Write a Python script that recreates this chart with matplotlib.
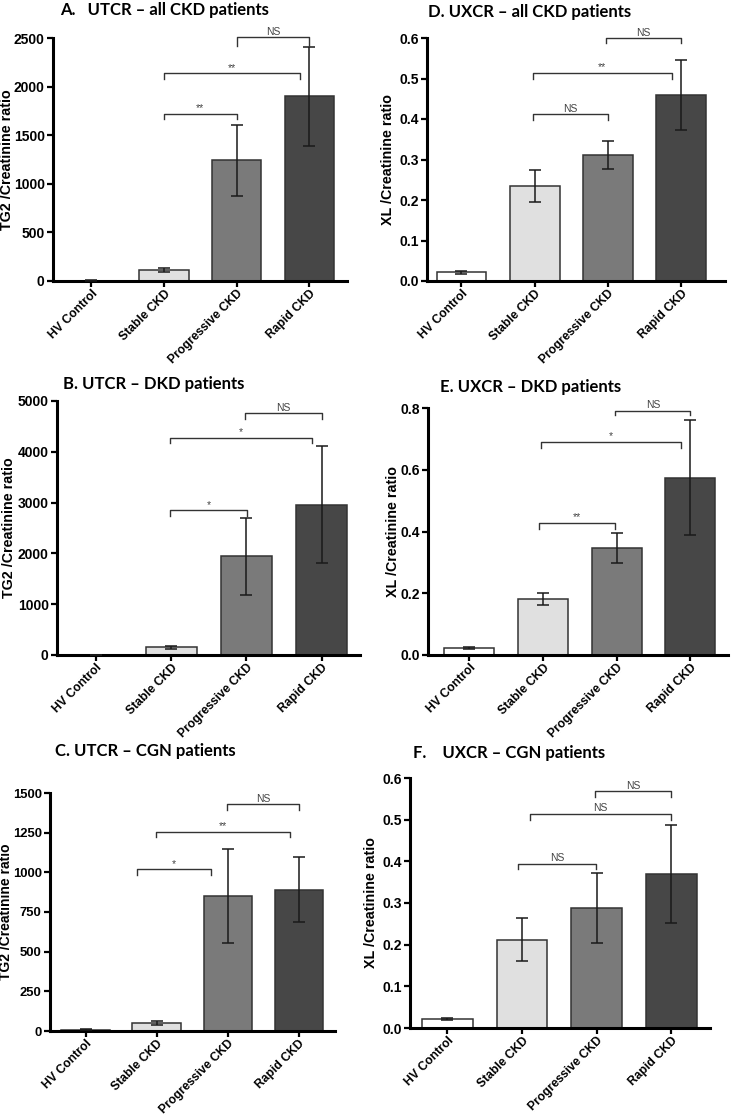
import numpy as np
import matplotlib
matplotlib.use('Agg')
import matplotlib.pyplot as plt

plt.rcParams['font.family'] = ['Liberation Sans', 'DejaVu Sans']
narrow = ['Liberation Sans Narrow', 'Liberation Sans', 'DejaVu Sans']

groups = ['HV Control', 'Stable CKD', 'Progressive CKD', 'Rapid CKD']
bar_colors = ['#ffffff', '#e0e0e0', '#7a7a7a', '#474747']

# means and SEM
a_mean = [5, 113, 1243, 1899]
a_sem = [2, 17, 367, 508]
b_mean = [5, 151, 1941, 2961]
b_sem = [2, 33, 757, 1145]
c_mean = [8, 50, 851, 890]
c_sem = [3, 13, 297, 205]
d_mean = [0.021, 0.234, 0.311, 0.459]
d_sem = [0.003, 0.040, 0.035, 0.086]
e_mean = [0.0216, 0.182, 0.347, 0.574]
e_sem = [0.003, 0.019, 0.048, 0.186]
f_mean = [0.0216, 0.212, 0.288, 0.370]
f_sem = [0.003, 0.051, 0.083, 0.117]

# significance brackets: (x1, x2, y, drop, label)
a_sig = [(2.0, 3.0, 2507, 93, 'NS'), (1.0, 2.87, 2139, 62, '**'), (1.0, 2.0, 1720, 55, '**')]
b_sig = [(1.98, 3.0, 4757, 112, 'NS'), (0.98, 2.87, 4276, 112, '*'), (0.98, 2.01, 2849, 119, '*')]
c_sig = [(1.99, 3.0, 1429, 34, 'NS'), (0.99, 2.87, 1254, 33, '**'), (0.72, 1.76, 1019, 34, '*')]
d_sig = [(1.97, 3.0, 0.600, 0.012, 'NS'), (0.98, 2.87, 0.514, 0.015, '**'), (0.98, 2.0, 0.412, 0.014, 'NS')]
e_sig = [(1.98, 3.0, 0.791, 0.015, 'NS'), (0.97, 2.87, 0.690, 0.020, '*'), (0.95, 1.98, 0.428, 0.019, '**')]
f_sig = [(1.98, 3.0, 0.568, 0.014, 'NS'), (1.11, 3.0, 0.514, 0.014, 'NS'), (0.95, 1.99, 0.394, 0.012, 'NS')]

W, H = 756, 1117
fig = plt.figure(figsize=(W / 100, H / 100), dpi=100)


def px_axes(l, r, b, t):
    return fig.add_axes([l / W, 1 - b / H, (r - l) / W, (b - t) / H])


def panel(box, mean, sem, sig, ymax, yticks, ylabel, lab_px, xlim, fmt, tfs=10, lfs=10.3):
    ax = px_axes(*box)
    x = np.arange(len(groups))
    ax.bar(x, mean, width=0.68, color=bar_colors, edgecolor='#333333', linewidth=1.1, zorder=2)
    ax.errorbar(x, mean, yerr=sem, fmt='none', ecolor='#1a1a1a', elinewidth=1.1,
                capsize=4.5, capthick=1.1, zorder=3)
    ax.set_ylim(0, ymax)
    ax.set_xlim(*xlim)
    ax.set_yticks(yticks)
    ax.set_yticklabels([fmt(v) for v in yticks], fontsize=tfs, fontweight='bold', family=narrow)
    ax.set_xticks(x)
    ax.set_xticklabels(groups, rotation=45, ha='right', rotation_mode='anchor',
                       fontsize=8.7, fontweight='bold')
    for s in ['top', 'right']:
        ax.spines[s].set_visible(False)
    for s in ['left', 'bottom']:
        ax.spines[s].set_linewidth(2.2)
    ax.tick_params(direction='out', length=4, width=1.6, pad=2)
    ax.tick_params(axis='x', pad=1)
    ax.set_ylabel(ylabel, fontsize=lfs, fontweight='bold')
    ax.yaxis.set_label_coords((lab_px - box[0]) / (box[1] - box[0]), 0.5)
    for x1, x2, y, d, lab in sig:
        ax.plot([x1, x1, x2, x2], [y - d, y, y, y - d], color='#333333', lw=1.0,
                clip_on=False, zorder=4)
        ax.text((x1 + x2) / 2, y + ymax * 0.002, lab, ha='center', va='bottom',
                fontsize=7.5, color='#444444', clip_on=False, family=narrow)
    return ax


fint = lambda v: '%d' % v
f1 = lambda v: '%.1f' % v

panel((53, 347, 281, 38), a_mean, a_sem, a_sig, 2500, [0, 500, 1000, 1500, 2000, 2500],
      'TG2 /Creatinine ratio', 14, (-0.53, 3.52), fint)
panel((427, 725, 281, 38), d_mean, d_sem, d_sig, 0.6, [0, 0.1, 0.2, 0.3, 0.4, 0.5, 0.6],
      'XL /Creatinine ratio', 395, (-0.47, 3.6), f1)
panel((57, 360, 655, 401), b_mean, b_sem, b_sig, 5000, [0, 1000, 2000, 3000, 4000, 5000],
      'TG2 /Creatinine ratio', 16, (-0.52, 3.51), fint)
panel((428, 728, 655, 408), e_mean, e_sem, e_sig, 0.8, [0, 0.2, 0.4, 0.6, 0.8],
      'XL /Creatinine ratio', 400, (-0.56, 3.51), f1)
panel((50, 335, 1031, 793), c_mean, c_sem, c_sig, 1500, [0, 250, 500, 750, 1000, 1250, 1500],
      'TG2 /Creatinine ratio', 13.5, (-0.5, 3.51), fint, tfs=9.4, lfs=10)
panel((410, 710, 1028, 778), f_mean, f_sem, f_sig, 0.6, [0, 0.1, 0.2, 0.3, 0.4, 0.5, 0.6],
      'XL /Creatinine ratio', 378, (-0.5, 3.52), f1)

titles = [
    (60, 10, 'A.   UTCR \u2013 all CKD patients'),
    (428, 12, 'D. UXCR \u2013 all CKD patients'),
    (63, 384, 'B. UTCR \u2013 DKD patients'),
    (440, 387, 'E. UXCR \u2013 DKD patients'),
    (55, 751, 'C. UTCR \u2013 CGN patients'),
    (413, 753, 'F.    UXCR \u2013 CGN patients'),
]
for tx, ty, t in titles:
    fig.text(tx / W, 1 - ty / H, t, ha='left', va='center', fontsize=12,
             fontweight='bold', family=['Lato', 'DejaVu Sans'])

fig.savefig('out.png', dpi=100)
